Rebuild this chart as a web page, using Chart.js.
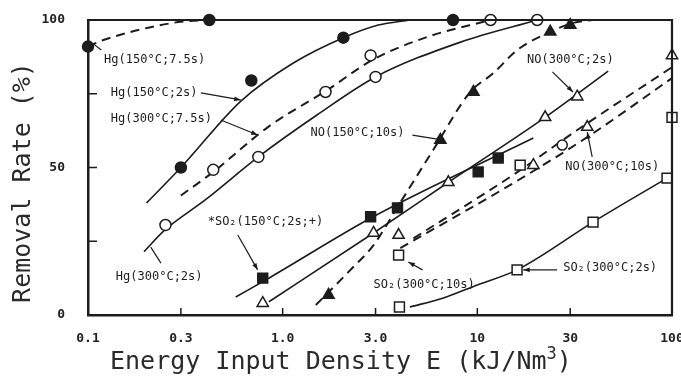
<!DOCTYPE html>
<html>
<head>
<meta charset="utf-8">
<title>Removal Rate vs Energy Input Density</title>
<script src="https://cdn.jsdelivr.net/npm/chart.js@4.4.1/dist/chart.umd.min.js"></script>
<style>
  html, body { margin: 0; padding: 0; background: #fff; }
  canvas { display: block; }
</style>
</head>
<body>
<canvas id="removalChart" width="681" height="386"></canvas>
<script>
// axis ticks
const xTicks = [0.1, 0.3, 1, 3, 10, 30, 100];
const xTickLabels = ["0.1", "0.3", "1.0", "3.0", "10", "30", "100"];
const yMinorTicks = [25, 50, 75];

// Hg(150°C;7.5s) - filled circles, dashed curve
const hg150L_E = [0.1, 0.42];
const hg150L_R = [91, 100];
const hg150L_fitE = [0.1, 0.12, 0.29, 0.42];
const hg150L_fitR = [91, 93.2, 99.3, 100];

// Hg(150°C;2s) - filled circles, solid curve
const hg150S_E = [0.3, 0.69, 2.05, 7.5];
const hg150S_R = [50, 79.5, 94, 100];
const hg150S_fitE = [0.2, 0.3, 0.61, 1.14, 2.05, 3.1, 4.5];
const hg150S_fitR = [38, 50, 72.5, 85.5, 94, 98.3, 100];

// Hg(300°C;7.5s) - open circles, dashed curve
const hg300L_E = [0.44, 1.66, 2.83, 11.7];
const hg300L_R = [49.2, 75.6, 88, 100];
const hg300L_fitE = [0.3, 0.44, 0.84, 1.7, 2.9, 5.5, 11.7];
const hg300L_fitR = [40.5, 48.5, 63.7, 76.3, 86.5, 94.2, 100];

// Hg(300°C;2s) - open circles, solid curve
const hg300S_E = [0.25, 0.75, 3.0, 20.3];
const hg300S_R = [30.5, 53.6, 80.7, 100];
const hg300S_fitE = [0.194, 0.25, 0.4, 0.75, 1.5, 3.0, 8.2, 20.3];
const hg300S_fitR = [21.5, 29, 39, 53.6, 67.8, 80.7, 92.5, 100];

// NO(150°C;10s) - filled triangles, dashed curve
const no150_E = [1.72, 6.46, 9.55, 23.7, 30];
const no150_R = [6.8, 59.3, 75.6, 96, 98.3];
const no150_fitE = [1.48, 2.23, 2.93, 3.89, 5.94, 9.2, 12.1, 16, 23.7, 31, 39];
const no150_fitR = [3.4, 15.3, 23.7, 36.6, 56, 75.6, 82, 89.8, 96, 99, 100];

// *SO2(150°C;2s;+) - filled squares, solid line
const so2150_E = [0.79, 2.83, 3.89, 10.1, 12.8];
const so2150_R = [12.5, 33.3, 36.3, 48.5, 53.2];
const so2150_fitE = [0.574, 0.87, 2.9, 19.4];
const so2150_fitR = [6.1, 12.9, 33.2, 60];

// NO(300°C;2s) - open triangles, solid line
const no300S_E = [0.79, 2.93, 7.1, 22.3, 32.6];
const no300S_R = [4, 27.8, 45, 67, 74];
const no300S_fitE = [0.85, 2.93, 7.1, 22.3, 47];
const no300S_fitR = [4.5, 27.8, 45, 67, 82.7];

// NO(300°C;10s) - open triangles, dashed line
const no300L_E = [3.94, 19.4, 36.7, 100];
const no300L_R = [27.1, 50.8, 63.7, 88];
const no300L_fitE = [4.7, 15.3, 32.6, 100];
const no300L_fitR = [26, 47.5, 62.7, 84];

// SO2(300°C;10s) - open squares, dashed line
const so2300L_E = [3.94, 16.6, 27.3, 100];
const so2300L_R = [20.3, 50.8, 57.6, 67];
const so2300L_fitE = [4.02, 15.3, 36.7, 100];
const so2300L_fitR = [22.7, 44.7, 60.3, 80.3];

// SO2(300°C;2s) - open squares, solid curve
const so2300S_E = [3.98, 16, 39.3, 94.3];
const so2300S_R = [2.7, 15.3, 31.5, 46.4];
const so2300S_fitE = [4.5, 6.7, 10, 16, 39.3, 94.3];
const so2300S_fitR = [2.7, 5.8, 10.2, 15.3, 31.5, 46.4];

const ink = "#1c1c1c";
const mono = "'DejaVu Sans Mono', 'Liberation Mono', monospace";

const pts = (xs, ys) => xs.map((x, i) => ({ x, y: ys[i] }));

const marks = (xs, ys, style, filled, radius) => ({
  type: "scatter",
  data: pts(xs, ys),
  showLine: false,
  pointStyle: style,
  pointRadius: radius,
  pointBackgroundColor: filled ? ink : "#fff",
  pointBorderColor: ink,
  pointBorderWidth: 1.5,
  clip: false,
  order: 0,
});

const curve = (xs, ys, dashed) => ({
  type: "line",
  data: pts(xs, ys),
  borderColor: ink,
  borderWidth: dashed ? 2 : 1.6,
  borderDash: dashed ? [9, 6] : [],
  pointRadius: 0,
  cubicInterpolationMode: "monotone",
  fill: false,
  clip: false,
  order: 1,
});

// labels and leader arrows, placed in data units
const notes = [
  { text: "Hg(150°C;7.5s)", at: [0.121, 86.4], from: [0.117, 89.8], to: [0.1065, 91.9], head: false },
  { text: "Hg(150°C;2s)", at: [0.131, 75.3], from: [0.38, 75.3], to: [0.609, 72.9], head: true },
  { text: "Hg(300°C;7.5s)", at: [0.131, 66.4], from: [0.481, 66.1], to: [0.744, 61], head: true },
  { text: "NO(150°C;10s)", at: [1.39, 61.7], from: [4.64, 61], to: [6.7, 59.3], head: true },
  { text: "NO(300°C;2s)", at: [18.0, 86.4], from: [24.3, 82.4], to: [31, 75.6], head: true },
  { text: "NO(300°C;10s)", at: [28.3, 50.2], from: [38.9, 53.6], to: [36.7, 62], head: true },
  { text: "*SO₂(150°C;2s;+)", at: [0.412, 31.5], from: [0.588, 27.1], to: [0.744, 15.3], head: true },
  { text: "Hg(300°C;2s)", at: [0.139, 12.9], from: [0.237, 17.6], to: [0.21, 23], head: false },
  { text: "SO₂(300°C;10s)", at: [2.93, 10.2], from: [5.23, 15.3], to: [4.42, 18], head: true },
  { text: "SO₂(300°C;2s)", at: [27.6, 15.9], from: [25.7, 15.3], to: [17.2, 15.3], head: true },
];

const decor = {
  id: "decor",
  afterDatasetsDraw(chart) {
    const { ctx, chartArea: a, scales: { x, y } } = chart;
    ctx.save();
    ctx.strokeStyle = ink;
    ctx.fillStyle = ink;

    // top and right frame
    ctx.lineWidth = 2.2;
    ctx.beginPath();
    ctx.moveTo(a.left, a.top);
    ctx.lineTo(a.right, a.top);
    ctx.lineTo(a.right, a.bottom);
    ctx.stroke();

    // inward tick marks
    ctx.lineWidth = 1.5;
    ctx.beginPath();
    xTicks.slice(1, -1).forEach((v) => {
      const px = x.getPixelForValue(v);
      ctx.moveTo(px, a.bottom);
      ctx.lineTo(px, a.bottom - 7);
    });
    yMinorTicks.forEach((v) => {
      const py = y.getPixelForValue(v);
      ctx.moveTo(a.left, py);
      ctx.lineTo(a.left + 9, py);
    });
    ctx.stroke();

    // notes
    ctx.font = "12px " + mono;
    ctx.textAlign = "left";
    ctx.textBaseline = "middle";
    ctx.lineWidth = 1.2;
    notes.forEach((n) => {
      ctx.fillText(n.text, x.getPixelForValue(n.at[0]), y.getPixelForValue(n.at[1]));
      const x1 = x.getPixelForValue(n.from[0]), y1 = y.getPixelForValue(n.from[1]);
      const x2 = x.getPixelForValue(n.to[0]), y2 = y.getPixelForValue(n.to[1]);
      ctx.beginPath();
      ctx.moveTo(x1, y1);
      ctx.lineTo(x2, y2);
      ctx.stroke();
      if (n.head) {
        const ang = Math.atan2(y2 - y1, x2 - x1);
        ctx.beginPath();
        ctx.moveTo(x2, y2);
        ctx.lineTo(x2 - 7 * Math.cos(ang - 0.35), y2 - 7 * Math.sin(ang - 0.35));
        ctx.lineTo(x2 - 7 * Math.cos(ang + 0.35), y2 - 7 * Math.sin(ang + 0.35));
        ctx.closePath();
        ctx.fill();
      }
    });

    // axis titles
    ctx.fillStyle = "#2a2a2a";
    ctx.font = "25px " + mono;
    ctx.textBaseline = "alphabetic";
    const tx = a.left + 22, ty = a.bottom + 54;
    const main = "Energy Input Density E (kJ/Nm";
    ctx.fillText(main, tx, ty);
    let w = ctx.measureText(main).width;
    ctx.font = "17px " + mono;
    ctx.fillText("3", tx + w, ty - 10);
    w += ctx.measureText("3").width;
    ctx.font = "25px " + mono;
    ctx.fillText(")", tx + w, ty);

    ctx.translate(a.left - 65, (a.top + a.bottom) / 2 + 15);
    ctx.rotate(-Math.PI / 2);
    ctx.textAlign = "center";
    ctx.textBaseline = "middle";
    ctx.fillText("Removal Rate (%)", 0, 0);
    ctx.restore();
  },
};

new Chart(document.getElementById("removalChart"), {
  data: {
    datasets: [
      curve(hg150L_fitE, hg150L_fitR, true),
      curve(hg150S_fitE, hg150S_fitR, false),
      curve(hg300L_fitE, hg300L_fitR, true),
      curve(hg300S_fitE, hg300S_fitR, false),
      curve(no150_fitE, no150_fitR, true),
      curve(so2150_fitE, so2150_fitR, false),
      curve(no300S_fitE, no300S_fitR, false),
      curve(no300L_fitE, no300L_fitR, true),
      curve(so2300L_fitE, so2300L_fitR, true),
      curve(so2300S_fitE, so2300S_fitR, false),
      marks(hg150L_E, hg150L_R, "circle", true, 5.5),
      marks(hg150S_E, hg150S_R, "circle", true, 5.5),
      marks(hg300L_E, hg300L_R, "circle", false, 5.5),
      marks(hg300S_E, hg300S_R, "circle", false, 5.5),
      marks(no150_E, no150_R, "triangle", true, 6.5),
      marks(so2150_E, so2150_R, "rect", true, 7),
      marks(no300S_E, no300S_R, "triangle", false, 6.5),
      marks(no300L_E, no300L_R, "triangle", false, 6.5),
      marks(so2300L_E, so2300L_R, ["rect", "rect", "circle", "rect"], false, [7, 7, 5, 7]),
      marks(so2300S_E, so2300S_R, "rect", false, 7),
    ],
  },
  options: {
    responsive: false,
    animation: false,
    layout: { padding: { top: 20, right: 9, left: 0, bottom: 0 } },
    plugins: { legend: { display: false }, tooltip: { enabled: false } },
    scales: {
      x: {
        type: "logarithmic",
        min: 0.1,
        max: 100,
        grid: { display: false },
        border: { display: true, color: ink, width: 2.5 },
        afterBuildTicks: (s) => {
          s.ticks = xTicks.map((v) => ({ value: v }));
        },
        afterFit: (s) => {
          s.height = 71;
          s.paddingLeft = 0;
          s.paddingRight = 0;
        },
        ticks: {
          autoSkip: false,
          maxRotation: 0,
          padding: 8,
          color: "#222",
          font: { family: mono, size: 13, weight: "bold" },
          callback: (v) => xTickLabels[xTicks.indexOf(v)],
        },
      },
      y: {
        min: 0,
        max: 100,
        grid: { display: false },
        border: { display: true, color: ink, width: 2.5 },
        afterFit: (s) => {
          s.width = 88;
          s.paddingTop = 0;
          s.paddingBottom = 0;
        },
        ticks: {
          stepSize: 50,
          padding: 15,
          color: "#222",
          font: { family: mono, size: 13, weight: "bold" },
        },
      },
    },
  },
  plugins: [decor],
});
</script>
</body>
</html>
